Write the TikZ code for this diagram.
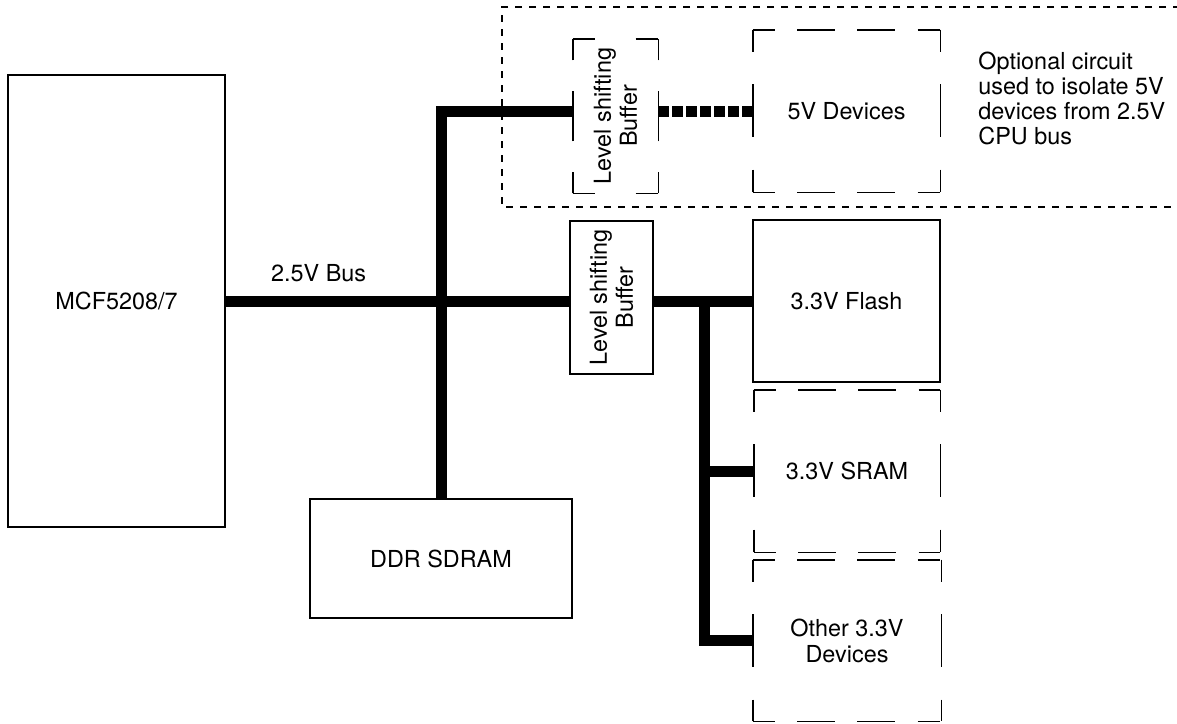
\documentclass[tikz,border=0pt]{standalone}
\usepackage{fontspec}
\setmainfont{TeX Gyre Heros}
\usetikzlibrary{positioning}

% long-dash frame round a node: #2 for its top/bottom sides, #3 for its left/right sides
\newcommand{\dashframe}[3]{%
  \draw[#2] (#1.north west) -- (#1.north east);
  \draw[#2] (#1.south west) -- (#1.south east);
  \draw[#3] (#1.north west) -- (#1.south west);
  \draw[#3] (#1.north east) -- (#1.south east);}

\begin{document}
\begin{tikzpicture}[
  x=0.5pt, y=-0.5pt,
  font=\fontsize{11.7pt}{13pt}\selectfont,
  box/.style={draw, line width=1pt, inner sep=0pt, align=center},
  ghost/.style={inner sep=0pt, align=center},
  bus/.style={line width=5.5pt},
  busdot/.style={line width=5.5pt, dash pattern=on 5.5pt off 1.5pt},
  edgeh/.style={line width=0.9pt, dash pattern=on 11pt off 11.25pt on 19pt off 11pt on 19pt off 11.25pt on 11pt off 20pt},
  edgev/.style={line width=0.9pt, dash pattern=on 11pt off 16.25pt on 26.5pt off 16.25pt on 11pt off 20pt},
  bufedgel/.style={line width=0.9pt, dash pattern=on 10.5pt off 15.5pt on 25pt off 15.5pt on 10.5pt off 20pt},
  bufedges/.style={line width=0.9pt, dash pattern=on 11pt off 20.5pt on 11pt off 20pt},
  optline/.style={line width=0.8pt, dash pattern=on 3.5pt off 3.5pt}]
  \useasboundingbox (0,0) rectangle (1177,723);

  \node[box, minimum width=108.5pt, minimum height=226pt] (mcu) at (116.5,301) {MCF5208/7};
  \node[box, minimum width=131pt, minimum height=59.5pt] (ddr) at (441,558.5) {DDR SDRAM};
  \node[box, rotate=90, minimum width=76.5pt, minimum height=41.5pt] (buf2) at (611.5,297.5) {Level shifting\\Buffer};
  \node[ghost, rotate=90, minimum width=77pt, minimum height=42.5pt] (buf1) at (615.5,116) {Level shifting\\Buffer};
  \node[ghost, minimum width=93.5pt, minimum height=81pt] (dev5) at (846.5,111) {5V Devices};
  \node[box, minimum width=93.5pt, minimum height=81pt] (flash) at (846.5,301) {3.3V Flash};
  \node[ghost, minimum width=93pt, minimum height=81pt] (sram) at (847,471) {3.3V SRAM};
  \node[ghost, minimum width=94pt, minimum height=80.5pt] (other) at (847,640.5) {Other 3.3V\\Devices};
  \node[ghost, anchor=west, align=left, font=\fontsize{11.7pt}{12.5pt}\selectfont] (note) at (978,98)
    {Optional circuit\\used to isolate 5V\\devices from 2.5V\\CPU bus};

  \dashframe{buf1}{bufedgel}{bufedges}
  \dashframe{dev5}{edgeh}{edgev}
  \dashframe{sram}{edgeh}{edgev}
  \dashframe{other}{edgeh}{edgev}
  % optional 5V area, open to the right
  \draw[optline] (1180,7) -| (502,207) -- (1180,207);

  \draw[bus] (mcu.east) -- (mcu.east -| buf2.north) node[pos=.27, above=3.5pt] (buslbl) {2.5V Bus};
  \draw[bus] (ddr.north) |- (dev5.west -| buf1.north);
  \draw[busdot] (buf1.south |- dev5.west) -- (dev5.west);
  \draw[bus] (flash.west -| buf2.south) -- coordinate[pos=.52] (tap) (flash.west);
  \draw[bus] (tap) |- (other.west);
  \draw[bus] (tap |- sram.west) -- (sram.west);
\end{tikzpicture}
\end{document}
